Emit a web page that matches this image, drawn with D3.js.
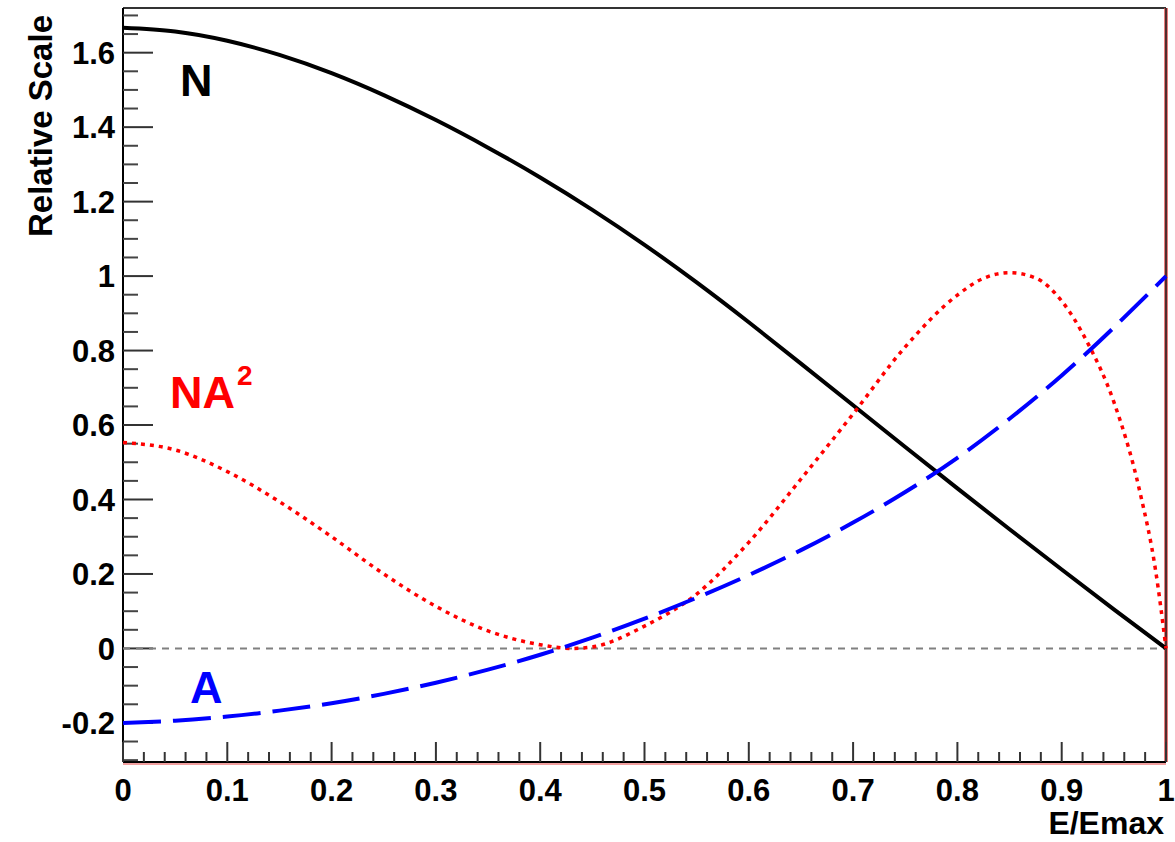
<!DOCTYPE html>
<html>
<head>
<meta charset="utf-8">
<script src="https://cdn.jsdelivr.net/npm/d3@7"></script>
<style>
  html, body { margin: 0; padding: 0; background: #fff; }
  svg { display: block; }
  text { font-family: "Liberation Sans", Arial, Helvetica, sans-serif; font-weight: bold; }
</style>
</head>
<body>
<svg id="chart" width="1175" height="842"></svg>
<script>
// ---- data ----
const xGrid = [0, 0.05, 0.1, 0.15, 0.2, 0.25, 0.3, 0.35, 0.4, 0.45, 0.5, 0.55, 0.6, 0.65, 0.7, 0.75, 0.8, 0.85, 0.9, 0.95, 1.0];
const nValues = [1.667, 1.657, 1.632, 1.594, 1.545, 1.486, 1.419, 1.345, 1.265, 1.178, 1.084, 0.983, 0.876, 0.765, 0.653, 0.541, 0.430, 0.320, 0.212, 0.105, 0.0];
const aValues = [-0.2, -0.194, -0.183, -0.167, -0.147, -0.122, -0.092, -0.057, -0.017, 0.029, 0.080, 0.136, 0.197, 0.264, 0.338, 0.420, 0.512, 0.617, 0.733, 0.862, 1.0];
const na2X = [0, 0.05, 0.1, 0.15, 0.2, 0.25, 0.3, 0.35, 0.4, 0.43, 0.45, 0.5, 0.55, 0.6, 0.65, 0.7, 0.75, 0.8, 0.825, 0.85, 0.875, 0.9, 0.925, 0.95, 0.975, 0.99, 1.0];
const na2Values = [0.553, 0.533, 0.475, 0.394, 0.30, 0.200, 0.113, 0.047, 0.010, 0.0, 0.004, 0.060, 0.146, 0.285, 0.455, 0.63, 0.81, 0.949, 0.994, 1.009, 0.995, 0.933, 0.82, 0.662, 0.42, 0.21, 0.0];
const xTickLabels = ["0", "0.1", "0.2", "0.3", "0.4", "0.5", "0.6", "0.7", "0.8", "0.9", "1"];
const yTickLabels = ["-0.2", "0", "0.2", "0.4", "0.6", "0.8", "1", "1.2", "1.4", "1.6"];
const xTitle = "E/Emax";
const yTitle = "Relative Scale";

// ---- layout ----
const L = 123, R = 1166, T = 8, B = 762;
const svg = d3.select("#chart");
const x = d3.scaleLinear().domain([0, 1]).range([L, R]);
const y = d3.scaleLinear().domain([-0.305, 1.72]).range([B, T]);

// frame (top & left)
svg.append("line").attr("x1", L).attr("x2", R).attr("y1", T).attr("y2", T)
  .attr("stroke", "#333").attr("stroke-width", 2);
svg.append("line").attr("x1", L).attr("x2", L).attr("y1", T).attr("y2", B)
  .attr("stroke", "#000").attr("stroke-width", 2);
// right border (dark with red tint)
svg.append("line").attr("x1", R).attr("x2", R).attr("y1", T).attr("y2", B)
  .attr("stroke", "#e05050").attr("stroke-width", 3.5);
svg.append("line").attr("x1", R).attr("x2", R).attr("y1", T).attr("y2", B)
  .attr("stroke", "#222").attr("stroke-width", 1.5);
// bottom border (black with pink band)
svg.append("line").attr("x1", L).attr("x2", R).attr("y1", B + 2).attr("y2", B + 2)
  .attr("stroke", "#f2a0a0").attr("stroke-width", 2);
svg.append("line").attr("x1", L).attr("x2", R).attr("y1", B).attr("y2", B)
  .attr("stroke", "#000").attr("stroke-width", 2);

// y ticks
const yMajor = d3.range(-0.2, 1.61, 0.2).map(v => +v.toFixed(2));
const yMinor = d3.range(-0.3, 1.71, 0.05).map(v => +v.toFixed(2)).filter(v => !yMajor.some(m => Math.abs(m - v) < 1e-6));
svg.append("g").selectAll("line").data(yMinor).join("line")
  .attr("x1", L).attr("x2", L + 15).attr("y1", d => y(d)).attr("y2", d => y(d))
  .attr("stroke", "#444").attr("stroke-width", 2);
svg.append("g").selectAll("line").data(yMajor).join("line")
  .attr("x1", L).attr("x2", L + 30).attr("y1", d => y(d)).attr("y2", d => y(d))
  .attr("stroke", "#333").attr("stroke-width", 2);
svg.append("g").selectAll("text").data(yMajor).join("text")
  .attr("x", 115).attr("y", d => y(d)).attr("dy", "0.36em")
  .attr("text-anchor", "end").attr("font-size", 31).attr("fill", "#000")
  .text((d, i) => yTickLabels[i]);

// x ticks
const xMajor = d3.range(0, 1.001, 0.1).map(v => +v.toFixed(2));
const xMinor = d3.range(0, 1.001, 0.02).map(v => +v.toFixed(2)).filter(v => !xMajor.some(m => Math.abs(m - v) < 1e-6));
svg.append("g").selectAll("line").data(xMinor).join("line")
  .attr("x1", d => x(d)).attr("x2", d => x(d)).attr("y1", B).attr("y2", B - 10)
  .attr("stroke", "#333").attr("stroke-width", 2);
svg.append("g").selectAll("line").data(xMajor).join("line")
  .attr("x1", d => x(d)).attr("x2", d => x(d)).attr("y1", B).attr("y2", B - 20)
  .attr("stroke", "#333").attr("stroke-width", 2);
svg.append("g").selectAll("text").data(xMajor).join("text")
  .attr("x", d => x(d)).attr("y", 801)
  .attr("text-anchor", "middle").attr("font-size", 31).attr("fill", "#000")
  .text((d, i) => xTickLabels[i]);

// axis titles
svg.append("text").attr("x", 1164).attr("y", 834).attr("text-anchor", "end")
  .attr("font-size", 32).attr("fill", "#000").text(xTitle);
svg.append("text").attr("transform", "translate(52,15) rotate(-90)")
  .attr("text-anchor", "end").attr("font-size", 33).attr("fill", "#000").text(yTitle);

// zero line
svg.append("line").attr("x1", x(0)).attr("x2", x(1)).attr("y1", y(0)).attr("y2", y(0))
  .attr("stroke", "#808080").attr("stroke-width", 2).attr("stroke-dasharray", "7,6");

// curves
const lineGen = (xs, ys, curve) => d3.line().curve(curve)
  .x((d, i) => x(xs[i])).y(d => y(d))(ys);

svg.append("path").attr("d", lineGen(xGrid, nValues, d3.curveNatural))
  .attr("fill", "none").attr("stroke", "#000").attr("stroke-width", 4);
svg.append("path").attr("d", lineGen(na2X, na2Values, d3.curveMonotoneX))
  .attr("fill", "none").attr("stroke", "#ff0000").attr("stroke-width", 3.5)
  .attr("stroke-dasharray", "4,5");
svg.append("path").attr("d", lineGen(xGrid, aValues, d3.curveNatural))
  .attr("fill", "none").attr("stroke", "#0000ff").attr("stroke-width", 4)
  .attr("stroke-dasharray", "38,12");

// curve labels
svg.append("text").attr("x", 180).attr("y", 96).attr("font-size", 45).attr("fill", "#000").text("N");
const na = svg.append("text").attr("x", 170).attr("y", 408).attr("font-size", 45).attr("fill", "#ff0000");
na.append("tspan").text("NA");
na.append("tspan").attr("font-size", 28).attr("dx", 2).attr("dy", -23).text("2");
svg.append("text").attr("x", 190).attr("y", 703).attr("font-size", 45).attr("fill", "#0000ff").text("A");
</script>
</body>
</html>
